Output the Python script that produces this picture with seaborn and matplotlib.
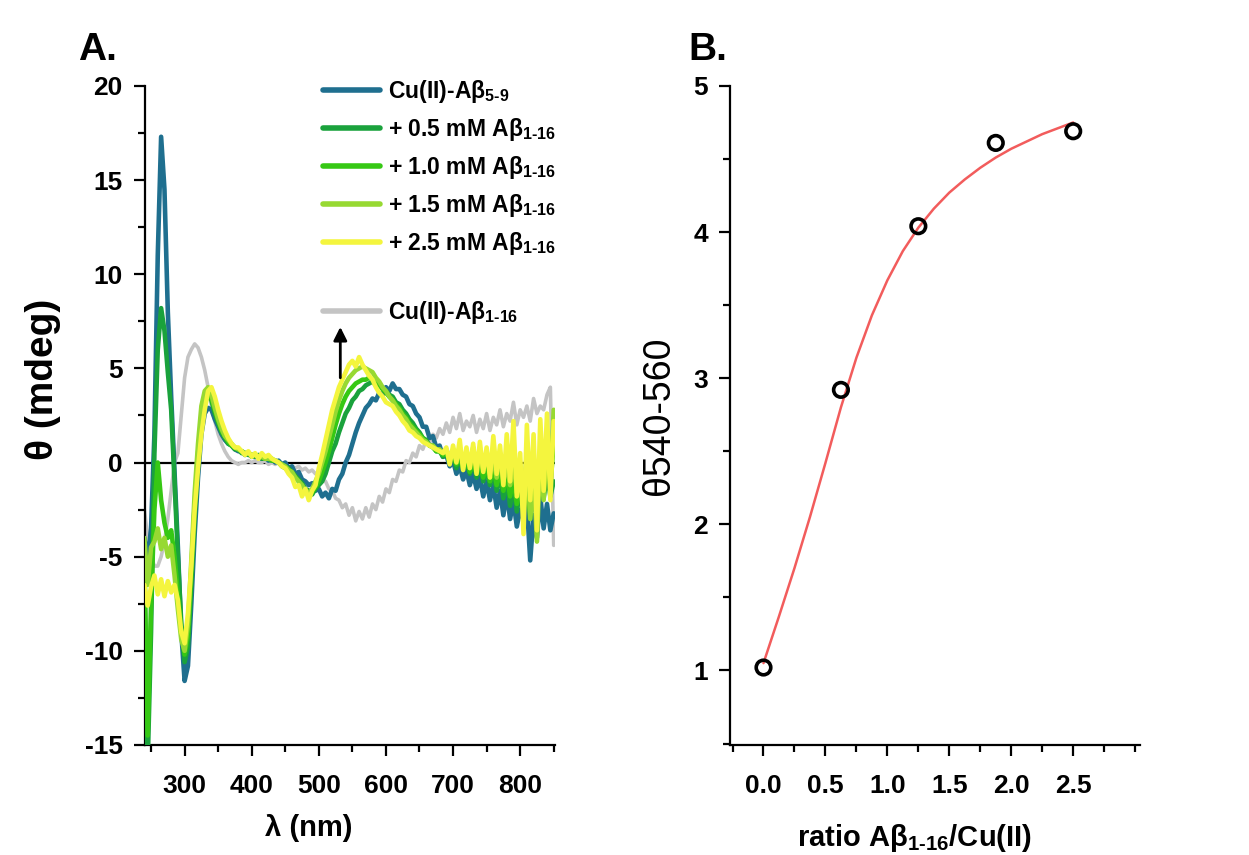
import numpy as np
import pandas as pd
import matplotlib
matplotlib.use('Agg')
from matplotlib import pyplot as plt
from matplotlib.lines import Line2D
from matplotlib.ticker import MultipleLocator, FixedLocator
import seaborn as sns

# ------------------------------------------------------------
# Panel A: CD spectra (5 nm steps)
# ------------------------------------------------------------
wavelength = np.arange(240, 855, 5)

theta_ab59 = [
    -4.0, -5.2, -3.5, 1.5, 11.0, 17.3, 14.5, 8.0, 3.5, -0.5,
    -4.5, -9.0, -11.6, -10.8, -7.5, -3.8, -0.8, 1.5, 2.6, 2.9,
    2.8, 2.3, 1.9, 1.5, 1.2, 1.0, 0.9, 0.7, 0.6, 0.6,
    0.4, 0.5, 0.3, 0.4, 0.3, 0.2, 0.3, 0.1, 0.2, 0.0,
    0.1, -0.1, 0.0, -0.3, -0.2, -0.6, -0.5, -0.9, -1.0, -1.2,
    -1.1, -1.5, -1.4, -1.8, -1.6, -1.9, -1.4, -1.5, -0.9, -0.6,
    0.0, 0.4, 1.0, 1.6, 2.1, 2.5, 2.9, 3.1, 3.4, 3.3,
    3.7, 3.6, 4.0, 3.8, 4.2, 3.9, 3.9, 3.6, 3.5, 3.1,
    3.0, 2.6, 2.4, 1.9, 1.9, 1.3, 1.4, 0.8, 0.9, 0.3,
    0.4, -0.2, 0.1, -0.6, -0.2, -0.9, -0.4, -1.2, -0.6, -1.4,
    -0.8, -1.8, -1.0, -2.0, -1.2, -2.4, -1.5, -2.8, -1.6, -3.0,
    -2.0, -3.4, -2.5, -3.0, -2.2, -5.2, -2.8, -4.0, -1.8, -3.5,
    -2.2, -3.6, -2.7,
]
theta_05mM = [
    -6.0, -16.0, -9.0, 0.5, 6.0, 8.2, 7.0, 4.8, 2.8, -1.0,
    -5.0, -8.5, -10.6, -9.8, -6.5, -3.0, -0.2, 2.0, 3.2, 3.6,
    3.3, 2.6, 2.1, 1.6, 1.3, 1.0, 0.9, 0.7, 0.7, 0.5,
    0.5, 0.4, 0.4, 0.3, 0.4, 0.2, 0.3, 0.2, 0.1, 0.1,
    0.0, -0.1, -0.2, -0.3, -0.5, -0.7, -0.9, -1.1, -1.4, -1.5,
    -1.7, -1.4, -1.2, -1.0, -0.6, 0.0, 0.6, 1.0, 1.6, 2.1,
    2.6, 2.9, 3.3, 3.5, 3.8, 3.9, 4.1, 4.2, 4.3, 4.1,
    4.2, 3.9, 3.8, 3.6, 3.5, 3.2, 3.1, 2.8, 2.6, 2.3,
    2.1, 1.8, 1.6, 1.3, 1.2, 0.9, 0.9, 0.6, 0.6, 0.3,
    0.5, 0.0, 0.3, -0.3, 0.2, -0.4, 0.1, -0.6, 0.0, -0.8,
    -0.2, -1.0, -0.3, -1.2, -0.5, -1.5, -0.6, -1.9, -0.8, -2.3,
    -1.2, -2.6, -1.5, -2.8, -1.0, -3.0, -1.6, -2.2, -0.8, -1.9,
    -0.6, -1.8, -1.0,
]
theta_10mM = [
    -5.0, -14.5, -7.5, -2.5, 0.0, -2.0, -3.2, -4.0, -3.6, -5.0,
    -7.0, -9.0, -10.2, -9.2, -5.8, -2.2, 0.5, 2.5, 3.4, 3.7,
    3.4, 2.8, 2.2, 1.7, 1.4, 1.1, 0.9, 0.8, 0.7, 0.6,
    0.5, 0.5, 0.4, 0.4, 0.3, 0.3, 0.2, 0.2, 0.1, 0.1,
    0.0, -0.2, -0.3, -0.4, -0.6, -0.8, -1.0, -1.3, -1.5, -1.6,
    -1.6, -1.3, -1.0, -0.5, 0.0, 0.6, 1.3, 2.0, 2.6, 3.1,
    3.5, 3.8, 4.0, 4.2, 4.3, 4.4, 4.4, 4.5, 4.4, 4.2,
    4.1, 3.9, 3.7, 3.5, 3.3, 3.1, 2.9, 2.6, 2.4, 2.1,
    1.9, 1.7, 1.5, 1.3, 1.1, 0.9, 0.8, 0.6, 0.6, 0.4,
    0.5, 0.1, 0.4, -0.1, 0.3, -0.3, 0.2, -0.5, 0.2, -0.6,
    0.0, -0.8, -0.1, -1.0, -0.2, -1.2, -0.3, -1.5, -0.5, -1.8,
    -0.8, -2.2, -1.0, -2.5, -0.6, -2.8, -1.2, -2.0, -0.4, -1.5,
    0.2, -1.2, 1.0,
]
theta_15mM = [
    -4.0, -6.5, -4.5, -4.2, -3.5, -4.6, -4.0, -5.0, -4.4, -6.0,
    -7.8, -9.4, -10.0, -8.6, -5.2, -1.6, 1.0, 3.0, 3.8, 4.0,
    3.6, 2.9, 2.3, 1.8, 1.4, 1.2, 1.0, 0.8, 0.7, 0.6,
    0.5, 0.5, 0.4, 0.4, 0.3, 0.3, 0.2, 0.2, 0.2, 0.1,
    0.0, -0.1, -0.2, -0.4, -0.5, -0.8, -1.0, -1.2, -1.5, -1.6,
    -1.4, -1.0, -0.6, 0.0, 0.6, 1.3, 2.0, 2.7, 3.3, 3.8,
    4.2, 4.5, 4.7, 4.9, 5.0, 5.1, 5.0, 4.9, 4.8, 4.5,
    4.3, 4.0, 3.8, 3.5, 3.3, 3.0, 2.8, 2.5, 2.3, 2.0,
    1.8, 1.6, 1.4, 1.2, 1.1, 0.9, 0.9, 0.7, 0.7, 0.5,
    0.7, 0.2, 0.6, 0.1, 0.7, -0.1, 0.5, -0.2, 0.8, -0.3,
    0.4, -0.4, 0.6, -0.6, 0.2, -0.8, 0.5, -1.0, 0.0, -1.2,
    0.3, -1.6, -0.2, -2.0, 0.6, -3.0, -0.5, -4.2, 0.5, -2.0,
    1.5, -1.0, 2.8,
]
theta_25mM = [
    -6.5, -7.6, -6.6, -6.0, -7.0, -6.2, -7.1, -6.3, -6.9, -6.5,
    -7.3, -9.0, -9.6, -8.0, -5.5, -2.5, -0.3, 1.5, 2.8, 3.8,
    4.0, 3.5, 2.8, 2.2, 1.7, 1.3, 1.0, 0.8, 0.8, 0.6,
    0.4, 0.6, 0.3, 0.5, 0.2, 0.5, 0.3, 0.4, 0.2, 0.1,
    0.0, -0.2, -0.3, -0.6, -0.8, -1.3, -1.2, -1.8, -1.4, -2.0,
    -1.5, -1.2, -0.3, 0.4, 1.2, 2.0, 2.8, 3.4, 4.0, 4.4,
    4.8, 5.2, 5.4, 5.1, 5.6, 5.2, 4.9, 4.6, 4.4, 4.0,
    3.7, 3.5, 3.2, 3.1, 3.0, 2.7, 2.5, 2.2, 2.0, 1.7,
    1.6, 1.4, 1.3, 1.1, 1.0, 0.9, 0.8, 0.7, 0.6, 0.5,
    0.8, -0.1, 0.9, 0.0, 1.2, -0.4, 0.8, -0.3, 1.0, -0.6,
    1.1, -0.5, 0.8, -0.8, 1.4, -0.6, 0.9, -1.2, 1.5, -1.0,
    2.2, -1.8, 0.5, -3.8, 2.0, -2.0, 1.5, -3.6, 2.3, -1.5,
    2.6, -2.0, 2.2,
]
theta_ab116 = [
    -2.5, -4.0, -5.0, -5.5, -5.5, -5.0, -4.2, -3.0, -1.5, 0.0,
    0.5, 2.5, 4.5, 5.6, 6.0, 6.3, 6.1, 5.6, 4.9, 4.0,
    3.0, 2.2, 1.5, 1.0, 0.6, 0.3, 0.1, 0.0, -0.1, 0.0,
    0.0, 0.1, 0.0, 0.1, 0.0, 0.0, 0.1, -0.1, 0.0, -0.1,
    0.0, -0.2, -0.1, -0.3, -0.2, -0.3, -0.2, -0.4, -0.3, -0.5,
    -0.4, -0.6, -0.6, -0.9, -1.0, -1.4, -1.5, -1.9, -2.0, -2.4,
    -2.2, -2.8, -2.4, -3.1, -2.6, -3.0, -2.4, -2.9, -2.2, -2.5,
    -1.8, -2.1, -1.4, -1.6, -0.9, -1.0, -0.4, -0.5, 0.1, 0.0,
    0.5, 0.3, 0.9, 0.7, 1.2, 1.0, 1.5, 1.3, 1.8, 1.5,
    2.1, 1.6, 2.4, 1.8, 2.6, 1.7, 2.2, 1.9, 2.5, 1.6,
    2.3, 1.8, 2.6, 1.7, 2.4, 2.0, 2.8, 1.9, 2.6, 2.2,
    3.2, 2.0, 2.8, 2.4, 3.0, 2.2, 3.4, 2.6, 3.0, 2.8,
    3.6, 4.0, -4.4,
]

series_labels = [
    r'Cu(II)-Aβ$_{5\text{-}9}$',
    r'+ 0.5 mM Aβ$_{1\text{-}16}$',
    r'+ 1.0 mM Aβ$_{1\text{-}16}$',
    r'+ 1.5 mM Aβ$_{1\text{-}16}$',
    r'+ 2.5 mM Aβ$_{1\text{-}16}$',
]
ref_label = r'Cu(II)-Aβ$_{1\text{-}16}$'
series_colors = ['#1f6f8f', '#1aa23c', '#36c814', '#97d932', '#f4f53e']
ref_color = '#c4c4c4'

# ------------------------------------------------------------
# Panel B: titration points and fitted curve
# ------------------------------------------------------------
ratio = [0.0, 0.625, 1.25, 1.875, 2.5]
theta_540_560 = [1.02, 2.92, 4.04, 4.61, 4.69]

fit_ratio = [0.0, 0.125, 0.25, 0.375, 0.5, 0.625, 0.75, 0.875, 1.0, 1.125, 1.25,
             1.375, 1.5, 1.625, 1.75, 1.875, 2.0, 2.125, 2.25, 2.375, 2.5]
fit_theta = [1.05, 1.37, 1.70, 2.05, 2.42, 2.80, 3.14, 3.43, 3.67, 3.87, 4.03,
             4.16, 4.27, 4.36, 4.44, 4.51, 4.57, 4.62, 4.67, 4.71, 4.75]

sns.set_theme(style='ticks')
plt.rcParams['font.family'] = ['Liberation Sans', 'DejaVu Sans']
plt.rcParams['font.weight'] = 'bold'
plt.rcParams['axes.labelweight'] = 'bold'
plt.rcParams['axes.unicode_minus'] = False
plt.rcParams['mathtext.fontset'] = 'custom'
plt.rcParams['mathtext.rm'] = 'Liberation Sans:bold'
plt.rcParams['mathtext.it'] = 'Liberation Sans:bold'
plt.rcParams['mathtext.bf'] = 'Liberation Sans:bold'
for key in ('text.color', 'axes.labelcolor', 'xtick.color', 'ytick.color'):
    plt.rcParams[key] = 'black'

fig = plt.figure(figsize=(12.49, 8.55), dpi=100)
fig.patch.set_facecolor('white')
ax1 = fig.add_axes([0.1161, 0.1287, 0.3283, 0.7708])
ax2 = fig.add_axes([0.5845, 0.1287, 0.3283, 0.7708])

# long-form table for the titration series
spectra = pd.concat([
    pd.DataFrame({'wavelength': wavelength, 'theta': vals, 'sample': lab})
    for lab, vals in zip(series_labels,
                         [theta_ab59, theta_05mM, theta_10mM, theta_15mM, theta_25mM])
])
ref_df = pd.DataFrame({'wavelength': wavelength, 'theta': theta_ab116})

ax1.axhline(0, color='black', lw=1.6, zorder=1)
sns.lineplot(data=ref_df, x='wavelength', y='theta', color=ref_color,
             linewidth=2.6, estimator=None, sort=False, ax=ax1, zorder=2)
sns.lineplot(data=spectra, x='wavelength', y='theta', hue='sample',
             hue_order=series_labels, palette=dict(zip(series_labels, series_colors)),
             linewidth=3.3, estimator=None, sort=False, legend=False, ax=ax1, zorder=3)

ax1.annotate('', xy=(532, 7.2), xytext=(532, 4.5),
             arrowprops=dict(arrowstyle='-|>', color='black', lw=2,
                             mutation_scale=20, shrinkA=0, shrinkB=0))

ax1.set_xlim(241, 852)
ax1.set_ylim(-15, 20)
ax1.xaxis.set_major_locator(FixedLocator([300, 400, 500, 600, 700, 800]))
ax1.xaxis.set_minor_locator(MultipleLocator(50))
ax1.yaxis.set_major_locator(MultipleLocator(5))
ax1.yaxis.set_minor_locator(MultipleLocator(2.5))
ax1.set_xlabel('λ (nm)', fontsize=21)
ax1.set_ylabel('θ (mdeg)', fontsize=28)
ax1.xaxis.set_label_coords(0.40, -0.105)
ax1.yaxis.set_label_coords(-0.205, 0.555)

# legends
handles = [Line2D([], [], color=c, lw=4) for c in series_colors]
leg_kw = dict(loc='upper left', frameon=False, handlelength=2.5, handletextpad=0.35,
              borderpad=0, borderaxespad=0, prop={'size': 16.5, 'weight': 'bold'})
leg1 = ax1.legend(handles, series_labels, bbox_to_anchor=(0.434, 1.0125),
                  labelspacing=0.48, **leg_kw)
ax1.add_artist(leg1)
ax1.legend([Line2D([], [], color=ref_color, lw=4)], [ref_label],
           bbox_to_anchor=(0.434, 0.676), **leg_kw)

# panel B
sns.lineplot(x=fit_ratio, y=fit_theta, color='#f25c5c', linewidth=1.8,
             estimator=None, sort=False, ax=ax2, zorder=2)
sns.scatterplot(x=ratio, y=theta_540_560, s=110, marker='o', ax=ax2, zorder=3)
pts = ax2.collections[-1]
pts.set_facecolor('none')
pts.set_edgecolor('black')
pts.set_linewidth(2.6)

ax2.set_xlim(-0.27, 3.04)
ax2.set_ylim(0.49, 5)
ax2.xaxis.set_major_locator(FixedLocator([0, 0.5, 1.0, 1.5, 2.0, 2.5]))
ax2.xaxis.set_minor_locator(MultipleLocator(0.25))
ax2.yaxis.set_major_locator(MultipleLocator(1))
ax2.yaxis.set_minor_locator(MultipleLocator(0.5))
ax2.set_xlabel(r'ratio Aβ$_{1\text{-}16}$/Cu(II)', fontsize=21)
ax2.set_ylabel('θ540-560', fontsize=27, fontweight='normal')
ax2.xaxis.set_label_coords(0.45, -0.117)
ax2.yaxis.set_label_coords(-0.13, 0.5)

for ax in (ax1, ax2):
    sns.despine(ax=ax)
    for side in ('left', 'bottom'):
        ax.spines[side].set_linewidth(1.6)
        ax.spines[side].set_color('black')
    ax.tick_params(which='major', direction='out', length=8, width=1.6,
                   labelsize=19, pad=8, color='black')
    ax.tick_params(which='minor', direction='out', length=5, width=1.6, color='black')
    ax.tick_params(axis='x', which='major', pad=13)
    ax.set_facecolor('white')

fig.text(0.0625, 0.93, 'A.', fontsize=28, fontweight='bold')
fig.text(0.551, 0.93, 'B.', fontsize=28, fontweight='bold')

plt.savefig('out.png', dpi=100, facecolor='white')
plt.close()
